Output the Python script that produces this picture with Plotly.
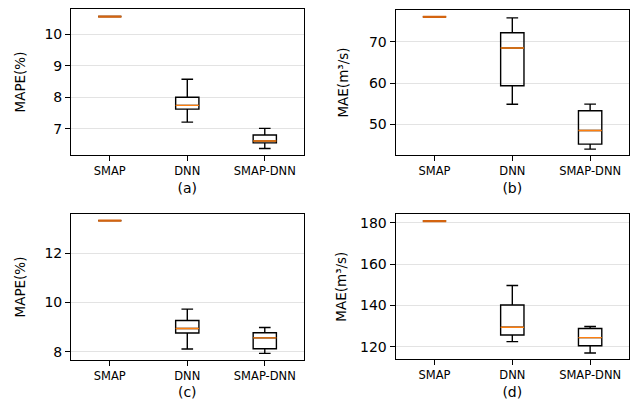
import plotly.graph_objects as go

categories = ["SMAP", "DNN", "SMAP-DNN"]

# panel (a) MAPE
a_low = [10.56, 7.21, 6.37]
a_q1 = [10.56, 7.62, 6.55]
a_med = [10.56, 7.74, 6.61]
a_q3 = [10.56, 8.00, 6.80]
a_high = [10.56, 8.57, 7.01]

# panel (b) MAE
b_low = [76.05, 54.85, 44.0]
b_q1 = [76.05, 59.35, 45.2]
b_med = [76.05, 68.5, 48.5]
b_q3 = [76.05, 72.2, 53.3]
b_high = [76.05, 75.8, 54.9]

# panel (c) MAPE
c_low = [13.33, 8.11, 7.93]
c_q1 = [13.33, 8.76, 8.12]
c_med = [13.33, 8.94, 8.56]
c_q3 = [13.33, 9.27, 8.77]
c_high = [13.33, 9.73, 8.98]

# panel (d) MAE
d_low = [180.8, 122.6, 117.1]
d_q1 = [180.8, 125.8, 120.6]
d_med = [180.8, 129.5, 124.5]
d_q3 = [180.8, 140.3, 128.9]
d_high = [180.8, 149.7, 129.9]

panels = [
    dict(low=a_low, q1=a_q1, med=a_med, q3=a_q3, high=a_high, ylabel="MAPE(%)", sub="(a)",
         yr=[6.165, 10.8], tv=[7, 8, 9, 10], xd=[0.1115, 0.4765], yd=[0.6125, 0.9775], so=15),
    dict(low=b_low, q1=b_q1, med=b_med, q3=b_q3, high=b_high, ylabel="MAE(m³/s)", sub="(b)",
         yr=[42.57, 77.7], tv=[50, 60, 70], xd=[0.621, 0.9875], yd=[0.6125, 0.975], so=17),
    dict(low=c_low, q1=c_q1, med=c_med, q3=c_q3, high=c_high, ylabel="MAPE(%)", sub="(c)",
         yr=[7.66, 13.6], tv=[8, 10, 12], xd=[0.1115, 0.4765], yd=[0.10, 0.465], so=15),
    dict(low=d_low, q1=d_q1, med=d_med, q3=d_q3, high=d_high, ylabel="MAE(m³/s)", sub="(d)",
         yr=[114.05, 184.2], tv=[120, 140, 160, 180], xd=[0.621, 0.9875], yd=[0.10175, 0.465], so=10),
]

BW = 0.3
fig = go.Figure()
layout = dict(
    width=637, height=400, margin=dict(l=0, r=0, t=0, b=0),
    paper_bgcolor="white", plot_bgcolor="white", showlegend=False,
    font=dict(family="DejaVu Sans", color="black"),
)

for i, p in enumerate(panels):
    n = "" if i == 0 else str(i + 1)
    xa, ya = "x" + n, "y" + n
    xpos = list(range(len(categories)))
    fig.add_trace(go.Box(
        x=xpos, q1=p["q1"], median=p["med"], q3=p["q3"],
        lowerfence=p["low"], upperfence=p["high"],
        width=BW, whiskerwidth=0.5, fillcolor="rgba(0,0,0,0)",
        line=dict(color="black", width=1.4), boxpoints=False,
        xaxis=xa, yaxis=ya, hoverinfo="skip",
    ))
    for j, m in enumerate(p["med"]):
        col = "#d4640f" if p["q1"][j] == p["q3"][j] else "#ff7f0e"
        wid = 2.2 if p["q1"][j] == p["q3"][j] else 1.4
        fig.add_trace(go.Scatter(
            x=[xpos[j] - BW / 2, xpos[j] + BW / 2], y=[m, m], mode="lines",
            line=dict(color=col, width=wid), xaxis=xa, yaxis=ya, hoverinfo="skip",
        ))
    layout["xaxis" + n] = dict(
        domain=p["xd"], anchor=ya, range=[-0.5, 2.5], tickvals=xpos, ticktext=categories,
        showgrid=False, zeroline=False, showline=True, linecolor="black", linewidth=1,
        mirror=True, ticks="outside", ticklen=5, tickcolor="black",
        tickfont=dict(size=11.5), title=dict(text=p["sub"], font=dict(size=14), standoff=6),
    )
    layout["yaxis" + n] = dict(
        domain=p["yd"], anchor=xa, range=p["yr"], tickvals=p["tv"],
        showgrid=True, gridcolor="#e3e3e3", gridwidth=1.2, zeroline=False,
        showline=True, linecolor="black", linewidth=1, mirror=True,
        ticks="outside", ticklen=5, tickcolor="black", tickfont=dict(size=14),
        title=dict(text=p["ylabel"], font=dict(size=13.5), standoff=p["so"]),
    )

fig.update_layout(**layout)
fig.write_html("out.html", post_script="document.body.style.margin='0';",
               config={"displayModeBar": False})
